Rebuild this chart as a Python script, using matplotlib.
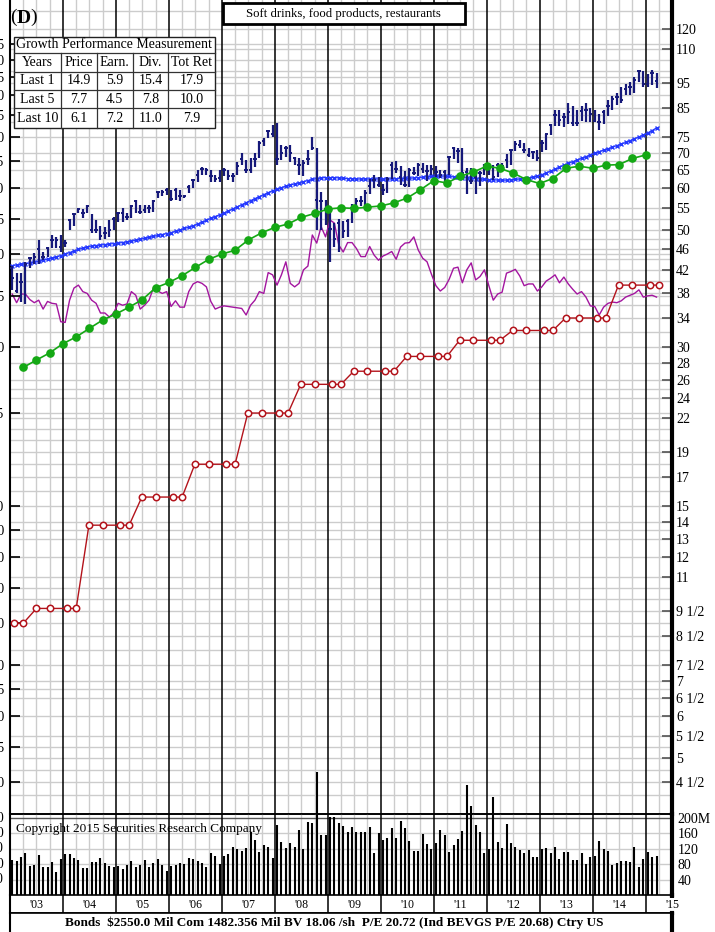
import numpy as np
import pandas as pd
import matplotlib
matplotlib.use("Agg")
import matplotlib.pyplot as plt
from matplotlib.patches import Rectangle
from matplotlib.ticker import FixedLocator, FixedFormatter, NullLocator

plt.rcParams['font.family'] = ['Liberation Serif', 'DejaVu Serif']

# ---------------- data ----------------
# monthly price range (high / low / close), Jan 2003 .. Mar 2015
price_high = [
    42.7, 41.5, 41.5, 43.5, 44.5, 45.2, 47.9, 45.5, 46.5, 48.9, 48.5, 48.9,
    47.8, 52.4, 53.9, 54.9, 54.7, 55.8, 53.6, 52.2, 50.8, 50.7, 52.2, 52.8,
    54.1, 55.1, 53.8, 55.8, 57.0, 55.8, 55.8, 55.8, 57.0, 59.1, 59.5, 59.9,
    59.5, 59.9, 59.5, 58.3, 60.7, 62.4, 64.9, 65.9, 65.4, 64.9, 63.5, 64.9,
    65.4, 64.9, 64.0, 67.3, 69.8, 67.8, 68.3, 69.8, 73.5, 74.5, 77.3, 79.0,
    79.5, 72.5, 72.0, 72.5, 68.8, 68.3, 67.8, 70.8, 75.1, 71.5, 59.1, 57.0,
    55.5, 51.5, 52.5, 52.0, 52.5, 56.0, 57.5, 58.0, 59.5, 62.5, 63.5, 63.0,
    61.2, 63.0, 67.3, 67.6, 66.0, 64.5, 65.5, 65.7, 67.0, 67.0, 66.3, 66.4,
    66.0, 65.0, 65.0, 68.9, 71.9, 71.5, 71.5, 65.5, 65.5, 63.5, 64.5, 66.7,
    67.0, 66.2, 66.8, 67.0, 69.5, 70.8, 73.7, 74.0, 73.0, 71.5, 70.5, 70.8,
    74.0, 76.1, 79.3, 84.3, 84.3, 83.3, 86.9, 85.7, 84.3, 85.7, 86.9, 85.1,
    84.3, 82.7, 84.3, 88.1, 89.6, 90.8, 93.3, 94.6, 95.2, 97.2, 100.4, 99.8,
    98.5, 100.4, 99.2]
price_low = [
    38.5, 38.0, 36.5, 36.2, 42.3, 43.0, 43.0, 43.8, 44.5, 46.2, 46.2, 45.5,
    46.5, 50.0, 50.8, 53.9, 52.6, 53.8, 49.4, 49.4, 47.8, 48.1, 48.5, 50.0,
    51.8, 51.8, 52.2, 52.6, 53.8, 53.6, 53.8, 53.8, 54.1, 57.5, 57.9, 58.3,
    56.6, 57.0, 56.6, 57.5, 58.7, 59.9, 61.7, 63.5, 63.5, 61.7, 61.7, 61.7,
    63.1, 62.1, 61.7, 63.5, 66.3, 64.0, 64.0, 65.9, 68.3, 72.0, 74.5, 75.1,
    66.3, 67.8, 68.8, 67.3, 66.3, 63.5, 63.1, 66.3, 70.8, 50.0, 50.0, 51.0,
    43.5, 46.5, 45.5, 48.2, 48.5, 51.5, 54.0, 55.5, 55.6, 58.5, 60.0, 60.4,
    58.2, 58.7, 62.5, 64.0, 60.7, 60.2, 60.3, 63.6, 63.2, 64.0, 61.8, 63.5,
    62.9, 62.6, 61.0, 63.5, 68.0, 67.0, 63.4, 58.5, 61.0, 58.5, 60.5, 63.5,
    63.5, 62.2, 63.0, 65.0, 65.5, 66.2, 70.6, 71.6, 70.0, 68.7, 68.0, 67.4,
    70.3, 70.8, 75.5, 78.8, 78.8, 78.2, 79.3, 78.8, 78.8, 80.4, 79.9, 79.9,
    79.9, 77.2, 79.3, 82.1, 84.3, 86.3, 86.9, 90.2, 90.2, 90.8, 95.2, 93.3,
    93.3, 93.9, 92.7]
price_close = [
    40.5, 38.3, 39.9, 43.0, 44.2, 44.5, 45.9, 44.5, 46.2, 47.9, 47.9, 46.5,
    47.2, 52.2, 53.6, 54.7, 53.9, 55.4, 50.0, 50.0, 48.6, 49.3, 50.0, 52.4,
    53.8, 53.8, 52.9, 55.6, 56.6, 54.1, 54.5, 54.9, 56.8, 58.9, 59.1, 59.5,
    57.3, 59.5, 57.9, 57.9, 60.2, 62.1, 63.5, 65.2, 64.9, 63.2, 62.3, 62.6,
    64.9, 63.2, 63.1, 66.1, 68.0, 64.9, 64.9, 68.0, 73.0, 73.8, 77.1, 75.9,
    68.0, 69.8, 71.5, 69.8, 68.3, 66.3, 66.8, 68.0, 71.5, 57.0, 56.6, 54.8,
    50.2, 48.1, 51.5, 49.8, 52.0, 55.0, 56.7, 56.7, 58.7, 60.6, 62.2, 60.8,
    59.6, 62.5, 66.2, 65.2, 62.9, 60.9, 64.9, 64.2, 66.4, 65.3, 64.6, 65.3,
    64.3, 63.4, 64.4, 68.8, 71.6, 70.4, 64.0, 64.4, 61.9, 62.9, 64.0, 66.4,
    65.7, 62.9, 66.4, 66.0, 67.8, 70.7, 72.7, 72.4, 70.8, 69.2, 70.2, 68.4,
    72.9, 75.8, 79.1, 82.5, 80.8, 81.8, 83.5, 79.7, 79.5, 84.1, 84.5, 82.9,
    80.4, 80.1, 83.5, 85.9, 88.3, 89.3, 88.1, 92.5, 93.1, 96.2, 100.1, 94.6,
    94.6, 99.0, 95.6]

# long-term moving average of price, monthly
moving_avg = [
    42.8, 42.9, 43.0, 43.1, 43.3, 43.4, 43.6, 43.8, 44.0, 44.2, 44.4, 44.7,
    45.0, 45.3, 45.6, 45.9, 46.2, 46.4, 46.6, 46.7, 46.8, 46.9, 47.0, 47.1,
    47.2, 47.3, 47.5, 47.6, 47.8, 48.0, 48.2, 48.4, 48.6, 48.8, 49.0, 49.2,
    49.4, 49.7, 50.0, 50.3, 50.6, 50.9, 51.3, 51.7, 52.1, 52.6, 53.0, 53.4,
    53.8, 54.3, 54.8, 55.3, 55.8, 56.3, 56.8, 57.3, 57.8, 58.3, 58.8, 59.3,
    59.7, 60.1, 60.5, 60.8, 61.1, 61.4, 61.7, 62.0, 62.3, 62.5, 62.7, 62.8,
    62.8, 62.8, 62.7, 62.6, 62.5, 62.5, 62.4, 62.4, 62.4, 62.4, 62.4, 62.4,
    62.4, 62.4, 62.4, 62.5, 62.5, 62.6, 62.6, 62.7, 62.8, 62.9, 63.0, 63.1,
    63.1, 63.2, 63.2, 63.1, 63.0, 62.9, 62.8, 62.7, 62.6, 62.5, 62.4, 62.3,
    62.2, 62.2, 62.1, 62.1, 62.1, 62.2, 62.3, 62.4, 62.5, 62.7, 62.9, 63.2,
    63.6, 64.1, 64.6, 65.1, 65.7, 66.3, 66.8, 67.3, 67.8, 68.3, 68.8, 69.3,
    69.8, 70.3, 70.8, 71.2, 71.7, 72.2, 72.7, 73.2, 73.8, 74.4, 75.0, 75.6,
    76.3, 77.1, 78.0]

# relative strength line (plotted in price units), monthly
rel_strength = [
    37.8, 36.4, 37.8, 37.8, 36.9, 36.4, 36.8, 35.4, 36.6, 36.3, 36.2, 33.5,
    33.4, 36.8, 38.8, 39.3, 38.2, 37.9, 36.8, 36.3, 34.8, 34.8, 34.2, 34.8,
    36.3, 36.0, 36.2, 38.2, 37.6, 35.4, 36.0, 36.8, 38.8, 38.3, 37.9, 38.2,
    35.8, 36.7, 35.7, 35.7, 38.2, 39.5, 39.9, 39.6, 39.0, 36.6, 35.4, 35.7,
    35.9, 35.8, 35.7, 35.6, 35.5, 34.5, 36.0, 36.8, 38.2, 37.9, 41.5, 41.1,
    39.3, 41.1, 43.5, 39.6, 39.0, 39.6, 42.0, 42.7, 48.9, 47.2, 50.7, 48.5,
    52.2, 51.5, 46.8, 45.4, 47.3, 47.3, 46.1, 44.5, 44.5, 46.5, 44.8, 43.8,
    44.6, 45.0, 45.5, 44.0, 46.4, 47.2, 47.3, 48.5, 45.8, 44.2, 43.5, 41.2,
    39.2, 38.3, 38.9, 40.3, 42.3, 42.5, 39.7, 42.0, 43.3, 40.2, 40.8, 42.0,
    39.2, 36.8, 37.8, 38.1, 41.4, 41.7, 42.1, 40.9, 39.2, 39.5, 39.5, 38.3,
    39.0, 40.0, 40.5, 41.1, 39.7, 40.7, 39.5, 38.6, 37.8, 38.2, 37.3, 35.9,
    35.8, 34.5, 35.7, 36.3, 36.5, 36.4, 36.7, 37.3, 37.6, 37.9, 38.5, 37.3,
    37.5, 37.6, 37.3]

# monthly volume, millions of shares
volume = [
    91, 89, 99, 108, 75, 78, 104, 72, 72, 85, 61, 93,
    106, 106, 97, 91, 71, 71, 87, 85, 97, 84, 76, 73,
    75, 67, 78, 88, 73, 78, 91, 73, 84, 94, 78, 63,
    75, 78, 84, 81, 97, 93, 89, 82, 73, 110, 102, 81,
    102, 106, 124, 119, 115, 121, 164, 143, 112, 130, 125, 95,
    182, 138, 121, 134, 125, 169, 119, 190, 186, 319, 156, 156,
    202, 202, 188, 179, 164, 177, 164, 164, 164, 176, 110, 162,
    143, 147, 173, 147, 193, 173, 141, 114, 114, 158, 132, 119,
    136, 169, 156, 112, 130, 145, 167, 286, 230, 182, 164, 108,
    119, 255, 138, 121, 184, 134, 124, 117, 108, 117, 99, 98,
    119, 121, 108, 124, 93, 112, 112, 91, 91, 108, 80, 98,
    101, 141, 119, 115, 78, 82, 89, 89, 86, 125, 72, 93,
    112, 99, 101]

# quarterly earnings per share (12-month trailing), 2003Q1 .. 2014Q4
eps = [1.83, 1.89, 1.95, 2.03, 2.09, 2.17, 2.25, 2.31, 2.38, 2.46, 2.59, 2.65,
       2.73, 2.83, 2.93, 3.00, 3.05, 3.19, 3.29, 3.37, 3.42, 3.52, 3.58, 3.65,
       3.67, 3.66, 3.68, 3.70, 3.75, 3.83, 3.97, 4.13, 4.09, 4.21, 4.29, 4.40,
       4.36, 4.27, 4.15, 4.08, 4.17, 4.36, 4.40, 4.36, 4.42, 4.43, 4.55, 4.62]

# indicated annual dividend rate
div_dates = [2003.08, 2003.25,
             2003.50, 2003.76, 2004.08, 2004.25,
             2004.49, 2004.75, 2005.08, 2005.25,
             2005.49, 2005.75, 2006.08, 2006.25,
             2006.49, 2006.75, 2007.08, 2007.25,
             2007.49, 2007.75, 2008.08, 2008.25,
             2008.49, 2008.75, 2009.08, 2009.25,
             2009.49, 2009.75, 2010.08, 2010.25,
             2010.49, 2010.75, 2011.08, 2011.25,
             2011.49, 2011.75, 2012.08, 2012.25,
             2012.49, 2012.75, 2013.08, 2013.25,
             2013.49, 2013.75, 2014.08, 2014.25,
             2014.49, 2014.75, 2015.08, 2015.25]
dividends = [0.60, 0.60,
             0.64, 0.64, 0.64, 0.64,
             0.92, 0.92, 0.92, 0.92,
             1.04, 1.04, 1.04, 1.04,
             1.20, 1.20, 1.20, 1.20,
             1.50, 1.50, 1.50, 1.50,
             1.70, 1.70, 1.70, 1.70,
             1.80, 1.80, 1.80, 1.80,
             1.92, 1.92, 1.92, 1.92,
             2.06, 2.06, 2.06, 2.06,
             2.15, 2.15, 2.15, 2.15,
             2.27, 2.27, 2.27, 2.27,
             2.62, 2.62, 2.62, 2.62]

year_labels = ["'03", "'04", "'05", "'06", "'07", "'08", "'09",
               "'10", "'11", "'12", "'13", "'14", "'15"]

right_ticks = [120, 110, 95, 85, 75, 70, 65, 60, 55, 50, 46, 42, 38, 34, 30,
               28, 26, 24, 22, 19, 17, 15, 14, 13, 12, 11, 9.5, 8.5, 7.5, 7,
               6.5, 6, 5.5, 5, 4.5]
right_labels = ['120', '110', '95', '85', '75', '70', '65', '60', '55', '50',
                '46', '42', '38', '34', '30', '28', '26', '24', '22', '19',
                '17', '15', '14', '13', '12', '11', '9 1/2', '8 1/2', '7 1/2',
                '7', '6 1/2', '6', '5 1/2', '5', '4 1/2']
extra_grid = [130, 100, 90, 80, 48, 44, 40, 36, 32, 25, 21, 20, 18, 16, 10,
              9, 8, 4.75, 4.25]

left_ticks = [7.5, 7.0, 6.5, 6.0, 5.5, 5.0, 4.5, 4.0, 3.5, 3.0, 2.5, 2.0, 1.5,
              1.0, 0.90, 0.80, 0.70, 0.60, 0.50, 0.45, 0.40, 0.35, 0.30]
left_labels = ['7.5', '7.0', '6.5', '6.0', '5.5', '5.0', '4.5', '4.0', '3.5',
               '3.0', '2.5', '2.0', '1.5', '1.0', '.90', '.80', '.70', '.60',
               '.50', '.45', '.40', '.35', '.30']

vol_ticks = [40, 80, 120, 160, 200]
vol_labels_right = ['40', '80', '120', '160', '200M']
vol_labels_left = ['40', '80', '120', '160', '200']

table_title = 'Growth Performance Measurement'
table_header = ['Years', 'Price', 'Earn.', 'Div.', 'Tot Ret']
table_rows = [['Last 1', '14.9', '5.9', '15.4', '17.9'],
              ['Last 5', '7.7', '4.5', '7.8', '10.0'],
              ['Last 10', '6.1', '7.2', '11.0', '7.9']]

industry = 'Soft drinks, food products, restaurants'
footer = ('Bonds  $2550.0 Mil Com 1482.356 Mil BV 18.06 /sh  '
          'P/E 20.72 (Ind BEVGS P/E 20.68) Ctry US')
copyright_note = 'Copyright 2015 Securities Research Company'

# ---------------- layout ----------------
W, H = 715, 932
fig = plt.figure(figsize=(W / 100, H / 100), dpi=100)
fig.patch.set_facecolor('white')


def box(left, top, right, bottom):
    return [left / W, 1 - bottom / H, (right - left) / W, (bottom - top) / H]


X0, X1 = 2003.0, 2015.5
P_LO, P_HI = 3.918, 136.2
RATIO = 15.0           # earnings / dividends plotted at 15x on the price scale
V_TOP = 210.4

GRID = '#cccccc'
NAVY = '#16197a'
MA_BLUE = '#2438ff'
GREEN = '#14a814'
RED = '#b3131b'
MAGENTA = '#a3159f'

months = pd.period_range('2003-01', periods=len(price_close), freq='M')
t_month = months.year + (months.month - 0.5) / 12.0
quarters = pd.period_range('2003Q1', periods=len(eps), freq='Q')
t_quarter = quarters.year + quarters.quarter / 4.0


def draw_vgrid(a):
    for q in np.arange(2003.25, 2015.5, 0.25):
        if abs(q - round(q)) < 1e-6:
            a.axvline(q, color='black', lw=1.1, zorder=0.6)
        else:
            a.axvline(q, color=GRID, lw=1.0, zorder=0.5)


# price panel
ax = fig.add_axes(box(10, 0, 672, 814))
ax.set_zorder(1)
ax.set_xlim(X0, X1)
ax.set_yscale('log')
ax.set_ylim(P_LO, P_HI)
draw_vgrid(ax)
levels = sorted(set(right_ticks + extra_grid + [v * RATIO for v in left_ticks]))
for lv in levels:
    ax.axhline(lv, color=GRID, lw=1.0, zorder=0.5)

ax.yaxis.tick_right()
ax.yaxis.set_major_locator(FixedLocator(right_ticks))
ax.yaxis.set_major_formatter(FixedFormatter(right_labels))
ax.yaxis.set_minor_locator(NullLocator())
ax.tick_params(axis='y', which='major', direction='in', length=7, width=1.2,
               color='#555555', pad=3, labelsize=10)
ax.set_xticks([])
ax.spines['top'].set_visible(False)
ax.spines['right'].set_linewidth(3.0)
ax.spines['left'].set_linewidth(1.5)
ax.spines['bottom'].set_linewidth(1.2)

# monthly high-low bars with close ticks
ax.vlines(t_month, price_low, price_high, color=NAVY, lw=1.6, zorder=4)
ax.hlines(price_close, t_month - 0.032, t_month + 0.032, color=NAVY, lw=1.4,
          zorder=4)
# moving average
ax.plot(t_month, moving_avg, color=MA_BLUE, lw=0.9, marker='x', ms=2.6,
        mew=1.0, zorder=3)
# relative strength
ax.plot(t_month, rel_strength, color=MAGENTA, lw=1.0, zorder=3)

# earnings / dividends scale (left)
axE = fig.add_axes(box(10, 0, 672, 814), sharex=ax)
axE.set_zorder(2)
axE.patch.set_visible(False)
axE.set_yscale('log')
axE.set_ylim(P_LO / RATIO, P_HI / RATIO)
for s in axE.spines.values():
    s.set_visible(False)
axE.yaxis.tick_left()
axE.yaxis.set_major_locator(FixedLocator(left_ticks))
axE.yaxis.set_major_formatter(FixedFormatter(left_labels))
axE.yaxis.set_minor_locator(NullLocator())
axE.tick_params(axis='y', which='major', direction='in', length=7, width=1.2,
                color='black', pad=4, labelsize=10)
axE.tick_params(axis='x', which='both', bottom=False, labelbottom=False)
axE.plot(t_quarter, eps, color=GREEN, lw=1.2, marker='o', ms=5.2, mec=GREEN,
         mfc=GREEN, zorder=5)
axE.plot(div_dates, dividends, color=RED, lw=1.0, marker='o', ms=4.6,
         mec=RED, mfc='white', mew=1.1, zorder=5)

# volume panel
axV = fig.add_axes(box(10, 814, 672, 895))
axV.set_zorder(3)
axV.patch.set_visible(False)
axV.set_xlim(X0, X1)
axV.set_ylim(0, V_TOP)
draw_vgrid(axV)
for v in vol_ticks:
    axV.axhline(v, color='#555555' if v == 200 else GRID, lw=1.0, zorder=0.5)
axV.vlines(t_month, 0, volume, color='black', lw=1.5, zorder=4, clip_on=False)
axV.yaxis.tick_right()
axV.yaxis.set_major_locator(FixedLocator(vol_ticks))
axV.yaxis.set_major_formatter(FixedFormatter(vol_labels_right))
axV.tick_params(axis='y', direction='in', length=0, pad=4, labelsize=10)
axV.set_xticks([])
axV.spines['top'].set_linewidth(1.2)
axV.spines['right'].set_linewidth(3.0)
axV.spines['left'].set_linewidth(1.5)
axV.spines['bottom'].set_linewidth(1.2)
for v, lab in zip(vol_ticks, vol_labels_left):
    axV.text(-0.009, v, lab, transform=axV.get_yaxis_transform(), ha='right',
             va='center', fontsize=10, clip_on=False)
axV.text(0.009, 0.81, copyright_note, transform=axV.transAxes, fontsize=9.5,
         ha='left', va='center', zorder=6)

# year strip
axY = fig.add_axes(box(10, 895, 672, 913))
axY.set_xlim(X0, X1)
axY.set_ylim(0, 1)
for yr in range(2004, 2016):
    axY.axvline(yr, color='black', lw=1.1)
axY.set_xticks([])
axY.set_yticks([])
axY.spines['right'].set_linewidth(3.0)
axY.spines['left'].set_linewidth(1.5)
axY.spines['top'].set_visible(False)
axY.spines['bottom'].set_linewidth(1.2)
for i, lab in enumerate(year_labels):
    kw = {}
    if i == len(year_labels) - 1:
        kw = dict(bbox=dict(facecolor='white', edgecolor='none', pad=0.5))
    axY.text(2003.5 + i, 0.45, lab, ha='center', va='center', fontsize=8.5,
             clip_on=False, zorder=5, **kw)

# footer line
axF = fig.add_axes(box(10, 913, 672, 932))
axF.set_xticks([])
axF.set_yticks([])
axF.spines['right'].set_linewidth(3.0)
axF.spines['left'].set_linewidth(1.5)
axF.spines['top'].set_linewidth(1.2)
axF.spines['bottom'].set_visible(False)
axF.text(0.49, 0.5, footer, ha='center', va='center', fontsize=9.5,
         fontweight='bold', transform=axF.transAxes)

# industry caption
fig.patches.append(Rectangle((222.5 / W, 1 - 23.5 / H), 242.5 / W, 20.5 / H,
                             transform=fig.transFigure, facecolor='white',
                             edgecolor='black', lw=2.0, zorder=5))
fig.text(343.5 / W, 1 - 13.5 / H, industry, ha='center', va='center',
         fontsize=9.2, zorder=6)

# group letter
fig.text(10.5 / W, 1 - 17.5 / H, '(', ha='left', va='center', fontsize=14,
         zorder=6)
fig.text(16.5 / W, 1 - 18.5 / H, 'D', ha='left', va='center', fontsize=14,
         fontweight='bold', zorder=6)
fig.text(30 / W, 1 - 17.5 / H, ')', ha='left', va='center', fontsize=14,
         zorder=6)

# growth table
col_x = [13.5, 61, 96.7, 132.7, 168.3, 215]
row_y = [36.7, 53.3, 71.7, 90, 108.3, 128.3]
fig.patches.append(Rectangle((col_x[0] / W, 1 - row_y[-1] / H),
                             (col_x[-1] - col_x[0]) / W,
                             (row_y[-1] - row_y[0]) / H,
                             transform=fig.transFigure, facecolor='white',
                             edgecolor='#222222', lw=1.0, zorder=5))
for y in row_y[1:-1]:
    fig.add_artist(plt.Line2D([col_x[0] / W, col_x[-1] / W],
                              [1 - y / H, 1 - y / H], color='#333333',
                              lw=0.9, zorder=6))
for x in col_x[1:-1]:
    fig.add_artist(plt.Line2D([x / W, x / W], [1 - row_y[1] / H,
                                               1 - row_y[-1] / H],
                              color='#333333', lw=0.9, zorder=6))
fig.text((col_x[0] + col_x[-1]) / 2 / W, 1 - (row_y[0] + row_y[1]) / 2 / H,
         table_title, ha='center', va='center', fontsize=10, zorder=7)
for r, row in enumerate([table_header] + table_rows):
    yc = (row_y[r + 1] + row_y[r + 2]) / 2
    for c, cell in enumerate(row):
        xc = (col_x[c] + col_x[c + 1]) / 2
        fig.text(xc / W, 1 - yc / H, cell, ha='center', va='center',
                 fontsize=10, zorder=7)

fig.savefig('out.png', dpi=100, facecolor='white')
